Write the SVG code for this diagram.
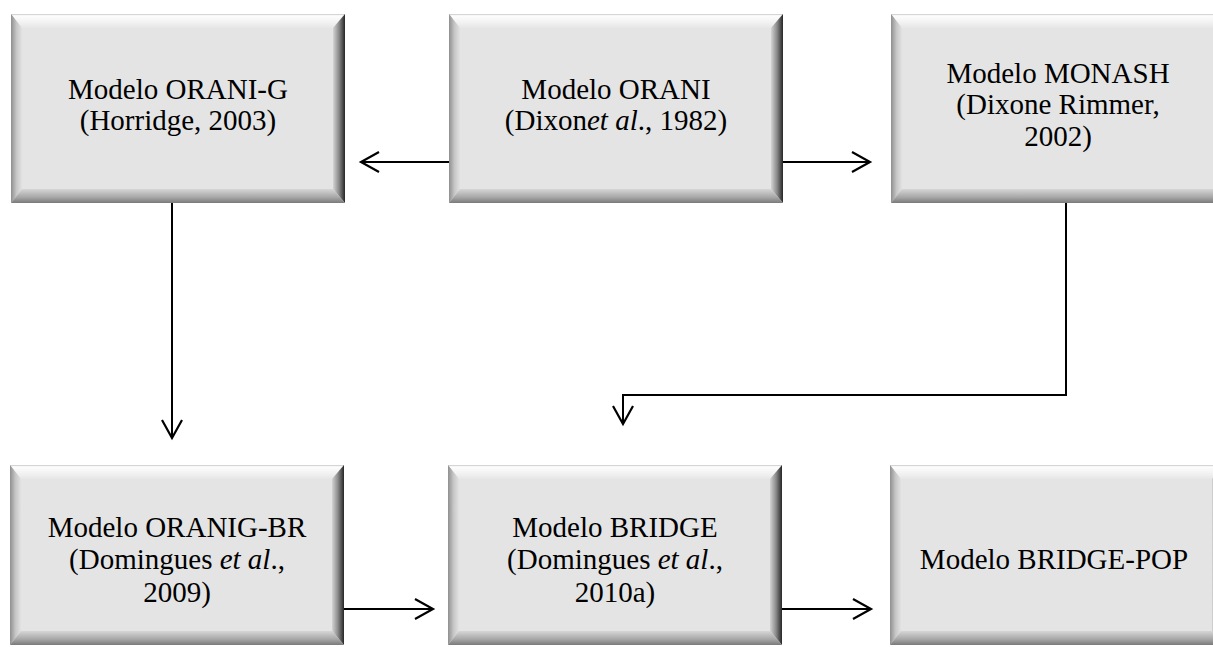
<svg xmlns="http://www.w3.org/2000/svg" xmlns:xlink="http://www.w3.org/1999/xlink" width="1213" height="647" viewBox="0 0 1213 647">
  <style>
    .face { fill: #e4e4e4; }
    .bev-top { fill: url(#gTop); }
    .bev-left { fill: url(#gLeft); }
    .bev-right { fill: url(#gRight); }
    .bev-bottom { fill: url(#gBottom); }
    .label { font-family: "Liberation Serif", "Times New Roman", serif; font-size: 29px; fill: #000; text-anchor: middle; }
    .it { font-style: italic; }
    .conn { fill: none; stroke: #000; stroke-width: 2; marker-end: url(#open); }
  </style>
  <defs>
    <linearGradient id="gTop" x1="0" y1="0" x2="0" y2="1">
      <stop offset="0" stop-color="#c4c4c4"/>
      <stop offset="0.12" stop-color="#fdfdfd"/>
      <stop offset="0.55" stop-color="#f3f3f3"/>
      <stop offset="1" stop-color="#e6e6e6"/>
    </linearGradient>
    <linearGradient id="gLeft" x1="0" y1="0" x2="1" y2="0">
      <stop offset="0" stop-color="#8f8f8f"/>
      <stop offset="0.5" stop-color="#c6c6c6"/>
      <stop offset="1" stop-color="#e2e2e2"/>
    </linearGradient>
    <linearGradient id="gRight" x1="0" y1="0" x2="1" y2="0">
      <stop offset="0" stop-color="#d4d4d4"/>
      <stop offset="0.5" stop-color="#8a8a8a"/>
      <stop offset="1" stop-color="#262626"/>
    </linearGradient>
    <linearGradient id="gBottom" x1="0" y1="0" x2="0" y2="1">
      <stop offset="0" stop-color="#d6d6d6"/>
      <stop offset="0.6" stop-color="#a6a6a6"/>
      <stop offset="1" stop-color="#7a7a7a"/>
    </linearGradient>
    <marker id="open" markerUnits="userSpaceOnUse" markerWidth="24" markerHeight="24" viewBox="0 0 24 24" refX="21" refY="12" orient="auto">
      <path d="M3,2 L21,12 L3,22" fill="none" stroke="#000" stroke-width="2.2"/>
    </marker>
    <!-- bevelled box, 334 x 189 -->
    <g id="boxTall">
      <rect class="face" x="0" y="0" width="334" height="189"/>
      <polygon class="bev-top" points="0,0 334,0 322,14 11,14"/>
      <polygon class="bev-left" points="0,0 11,14 11,175 0,189"/>
      <polygon class="bev-right" points="334,0 334,189 322,175 322,14"/>
      <polygon class="bev-bottom" points="0,189 11,175 322,175 334,189"/>
    </g>
    <!-- bevelled box, 334 x 180 -->
    <g id="boxShort">
      <rect class="face" x="0" y="0" width="334" height="180"/>
      <polygon class="bev-top" points="0,0 334,0 322,14 11,14"/>
      <polygon class="bev-left" points="0,0 11,14 11,166 0,180"/>
      <polygon class="bev-right" points="334,0 334,180 322,166 322,14"/>
      <polygon class="bev-bottom" points="0,180 11,166 322,166 334,180"/>
    </g>
  </defs>

  <rect width="1213" height="647" fill="#fff"/>

  <g id="connectors">
    <path class="conn" d="M449,162 H361"/>
    <path class="conn" d="M783,162 H870"/>
    <path class="conn" d="M172,203 V438"/>
    <path class="conn" d="M1066,203 V395 H623 V424"/>
    <path class="conn" d="M343,609 H433"/>
    <path class="conn" d="M782,609 H871"/>
  </g>

  <g id="node-oranig">
    <use xlink:href="#boxTall" x="11" y="14"/>
    <text class="label" x="178" y="99">Modelo ORANI-G</text>
    <text class="label" x="178" y="130">(Horridge, 2003)</text>
  </g>

  <g id="node-orani">
    <use xlink:href="#boxTall" x="449" y="14"/>
    <text class="label" x="616" y="99">Modelo ORANI</text>
    <text class="label" x="616" y="130">(Dixon<tspan class="it">et al</tspan>., 1982)</text>
  </g>

  <g id="node-monash">
    <use xlink:href="#boxTall" x="891" y="14"/>
    <text class="label" x="1058" y="83">Modelo MONASH</text>
    <text class="label" x="1058" y="114">(Dixone Rimmer,</text>
    <text class="label" x="1058" y="146">2002)</text>
  </g>

  <g id="node-oranig-br">
    <use xlink:href="#boxShort" x="10" y="465"/>
    <text class="label" x="177" y="537">Modelo ORANIG-BR</text>
    <text class="label" x="177" y="569">(Domingues <tspan class="it">et al</tspan>.,</text>
    <text class="label" x="177" y="602">2009)</text>
  </g>

  <g id="node-bridge">
    <use xlink:href="#boxShort" x="448" y="465"/>
    <text class="label" x="615" y="537">Modelo BRIDGE</text>
    <text class="label" x="615" y="569">(Domingues <tspan class="it">et al</tspan>.,</text>
    <text class="label" x="615" y="602">2010a)</text>
  </g>

  <g id="node-bridge-pop">
    <use xlink:href="#boxShort" x="890" y="465"/>
    <text class="label" x="1054" y="569">Modelo BRIDGE-POP</text>
  </g>
</svg>
